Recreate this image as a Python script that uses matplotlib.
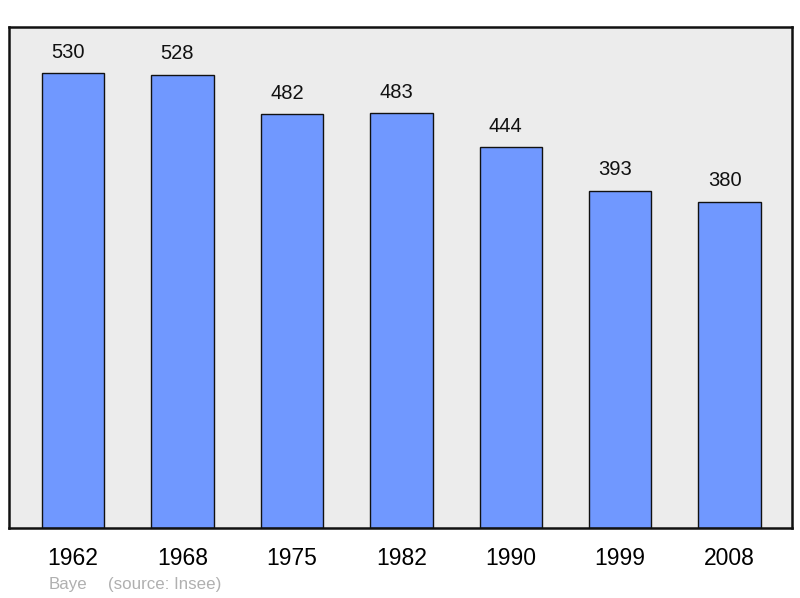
import matplotlib.pyplot as plt

plt.rcParams['font.family'] = ['Liberation Sans', 'DejaVu Sans']

years = ['1962', '1968', '1975', '1982', '1990', '1999', '2008']
population = [530, 528, 482, 483, 444, 393, 380]
town = 'Baye'
source = '(source: Insee)'

fig = plt.figure(figsize=(8, 5.98), dpi=100)
ax = fig.add_axes([9/800, 70/598, 783/800, 501/598])
ax.set_facecolor('#ececec')

x = range(len(years))
ax.bar(x, population, width=0.57, color='#7098ff', edgecolor='#111111', linewidth=1.0, zorder=2)
for xi, v in zip(x, population):
    ax.annotate(str(v), (xi, v), xytext=(-3.6, 15), textcoords='offset points',
                ha='center', va='center', fontsize=14.5, color='#111111')

ax.set_xlim(-0.585, 6.57)
ax.set_ylim(0, 583.6)
ax.set_xticks(list(x))
ax.set_xticklabels(years, fontsize=16.5)
ax.tick_params(axis='x', length=0, pad=13.5)
ax.set_yticks([])
for s in ax.spines.values():
    s.set_linewidth(1.8)
    s.set_color('#111111')

fig.text(49/800, 1 - 584/598, town, fontsize=12.2, color='#b0b0b0', va='center')
fig.text(108/800, 1 - 584/598, source, fontsize=12.2, color='#b0b0b0', va='center')

fig.savefig('out.png')
